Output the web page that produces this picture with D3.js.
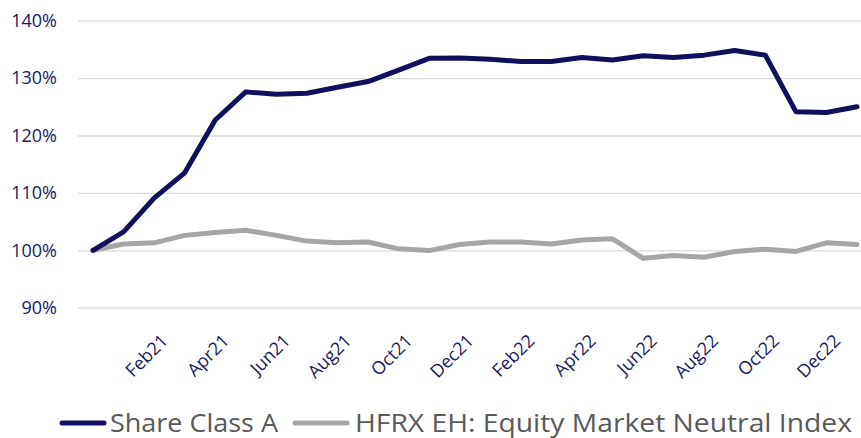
<!DOCTYPE html>
<html>
<head>
<meta charset="utf-8">
<script src="https://cdn.jsdelivr.net/npm/d3@7"></script>
<style>
  body { margin: 0; background: #fff; }
  text { font-family: "Open Sans", sans-serif; }
</style>
</head>
<body>
<svg id="chart"></svg>
<script>
// categories: first slot is the blank start point (100%)
const months = ['', 'Jan21', 'Feb21', 'Mar21', 'Apr21', 'May21', 'Jun21', 'Jul21', 'Aug21', 'Sep21', 'Oct21', 'Nov21', 'Dec21',
  'Jan22', 'Feb22', 'Mar22', 'Apr22', 'May22', 'Jun22', 'Jul22', 'Aug22', 'Sep22', 'Oct22', 'Nov22', 'Dec22', 'Jan23'];

const shareClassA = [100, 103.2, 109.1, 113.5, 122.7, 127.6, 127.2, 127.35, 128.4, 129.4, 131.4, 133.45, 133.5,
  133.3, 132.9, 132.9, 133.6, 133.15, 133.9, 133.6, 134.0, 134.8, 134.0, 124.15, 124.0, 125.0];

const hfrxIndex = [100, 101.1, 101.3, 102.6, 103.1, 103.5, 102.6, 101.6, 101.3, 101.45, 100.25, 99.95, 101.0,
  101.45, 101.45, 101.1, 101.8, 102.0, 98.6, 99.1, 98.8, 99.8, 100.2, 99.8, 101.3, 101.0];

const yTicks = [90, 100, 110, 120, 130, 140];

const seriesNames = ['Share Class A', 'HFRX EH: Equity Market Neutral Index'];
const seriesColors = ['#10105e', '#a6a6a6'];

const config = {
  width: 861,
  height: 438,
  plotLeft: 78,
  plotRight: 861,
  firstX: 93,
  lastX: 857,
  yTop: 20.7,
  yBottom: 307.7
};

const svg = d3.select('#chart')
  .attr('width', config.width)
  .attr('height', config.height);

const xScale = d3.scalePoint()
  .domain(months.map((d, i) => i))
  .range([config.firstX, config.lastX]);

const yScale = d3.scaleLinear()
  .domain([90, 140])
  .range([config.yBottom, config.yTop]);

// y axis with gridlines
const yAxis = d3.axisLeft(yScale)
  .tickValues(yTicks)
  .tickSize(-(config.plotRight - config.plotLeft))
  .tickPadding(21)
  .tickFormat(d => d + '%');

const yAxisG = svg.append('g')
  .attr('transform', `translate(${config.plotLeft},0)`)
  .call(yAxis);

yAxisG.select('.domain').remove();
yAxisG.selectAll('line')
  .attr('stroke', '#d9d9d9')
  .attr('stroke-width', 1.3);
yAxisG.selectAll('text')
  .attr('fill', '#1a1a5e')
  .style('font-size', '18px')
  .style('font-family', '"Open Sans", sans-serif');

// x labels, every second month, rotated
const labelIdx = months.map((d, i) => i).filter(i => i > 0 && i % 2 === 0);
svg.append('g')
  .selectAll('text')
  .data(labelIdx)
  .join('text')
    .attr('transform', i => `translate(${xScale(i) + 15},${342}) rotate(-45)`)
    .attr('text-anchor', 'end')
    .attr('fill', '#1a1a5e')
    .style('font-size', '18px')
    .text(i => months[i]);

// lines
const line = d3.line()
  .x((d, i) => xScale(i))
  .y(d => yScale(d));

[hfrxIndex, shareClassA].forEach((values, k) => {
  const color = k === 0 ? seriesColors[1] : seriesColors[0];
  svg.append('path')
    .datum(values)
    .attr('fill', 'none')
    .attr('stroke', color)
    .attr('stroke-width', 5)
    .attr('stroke-linejoin', 'round')
    .attr('stroke-linecap', 'round')
    .attr('d', line);
});

// legend
const legendItems = [
  {name: seriesNames[0], color: seriesColors[0], x1: 62, x2: 104, tx: 110, tw: 168},
  {name: seriesNames[1], color: seriesColors[1], x1: 295, x2: 347, tx: 355, tw: 497}
];

const legend = svg.append('g');
legend.selectAll('line')
  .data(legendItems)
  .join('line')
    .attr('x1', d => d.x1)
    .attr('x2', d => d.x2)
    .attr('y1', 423)
    .attr('y2', 423)
    .attr('stroke', d => d.color)
    .attr('stroke-width', 5)
    .attr('stroke-linecap', 'round');

legend.selectAll('text')
  .data(legendItems)
  .join('text')
    .attr('x', d => d.tx)
    .attr('y', 431.5)
    .attr('fill', '#595959')
    .attr('textLength', d => d.tw)
    .attr('lengthAdjust', 'spacingAndGlyphs')
    .style('font-size', '26px')
    .text(d => d.name);
</script>
</body>
</html>
